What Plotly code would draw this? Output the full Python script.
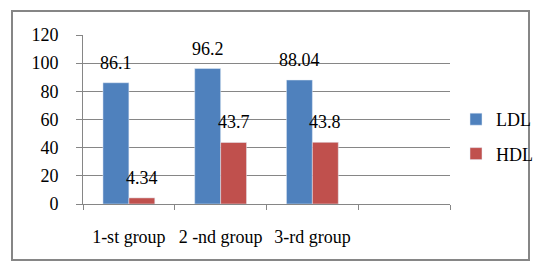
import plotly.graph_objects as go

categories = ["1-st group", "2 -nd group", "3-rd group", " "]
ldl = [86.1, 96.2, 88.04, None]
hdl = [4.34, 43.7, 43.8, None]
y_ticks = [0, 20, 40, 60, 80, 100, 120]

FONT = "Liberation Serif"
GRAY = "#868686"

fig = go.Figure()
fig.add_trace(go.Bar(name="LDL", x=categories, y=ldl, marker_color="#4F81BD", legendgroup="a"))
fig.add_trace(go.Bar(name="HDL", x=categories, y=hdl, marker_color="#C0504D", legendgroup="b"))

annotations = []
for vals, shift in ((ldl, -13), (hdl, 13)):
    for c, v in zip(categories, vals):
        if v is None:
            continue
        annotations.append(dict(x=c, y=v, text=str(v), showarrow=False, xshift=shift,
                                yshift=8, yanchor="bottom", font=dict(size=18, color="black", family=FONT)))

W, H = 540, 272
L, R, T, B = 83, 90, 35, 68
pw, ph = W - L - R, H - T - B
def px(x):
    return (x - L) / pw
def py(y):
    return (H - B - y) / ph

fig.update_layout(
    width=W, height=H,
    margin=dict(l=L, r=R, t=T, b=B, pad=0, autoexpand=False),
    paper_bgcolor="white", plot_bgcolor="white",
    font=dict(family=FONT, size=18, color="black"),
    barmode="group", bargap=0.435, bargroupgap=0,
    showlegend=True,
    legend=dict(x=px(456), y=py(101), xanchor="left", yanchor="top", tracegroupgap=8,
                font=dict(size=18, family=FONT), bgcolor="rgba(0,0,0,0)", itemwidth=30),
    xaxis=dict(type="category", categoryorder="array", categoryarray=categories,
               range=[-0.5, 3.5], showline=True, linecolor=GRAY, linewidth=1,
               ticks="outside", tickson="boundaries", ticklen=5, tickcolor=GRAY,
               tickangle=0, automargin=False,
               ticklabelstandoff=16, showgrid=False, tickfont=dict(size=18, family=FONT)),
    yaxis=dict(range=[0, 120], tickvals=y_ticks, showgrid=True, gridcolor=GRAY, gridwidth=1,
               showline=True, linecolor=GRAY, linewidth=1, ticks="outside", ticklen=6,
               automargin=False,
               tickcolor=GRAY, ticklabelstandoff=14, zeroline=False, tickfont=dict(size=18, family=FONT)),
    annotations=annotations,
    shapes=[dict(type="rect", xref="paper", yref="paper", x0=px(12), x1=px(529),
                 y0=py(260), y1=py(11), line=dict(color=GRAY, width=2), layer="below")],
)

fig.write_html("out.html", config={"displayModeBar": False},
               post_script="document.body.style.margin='0';document.body.style.padding='0';")
